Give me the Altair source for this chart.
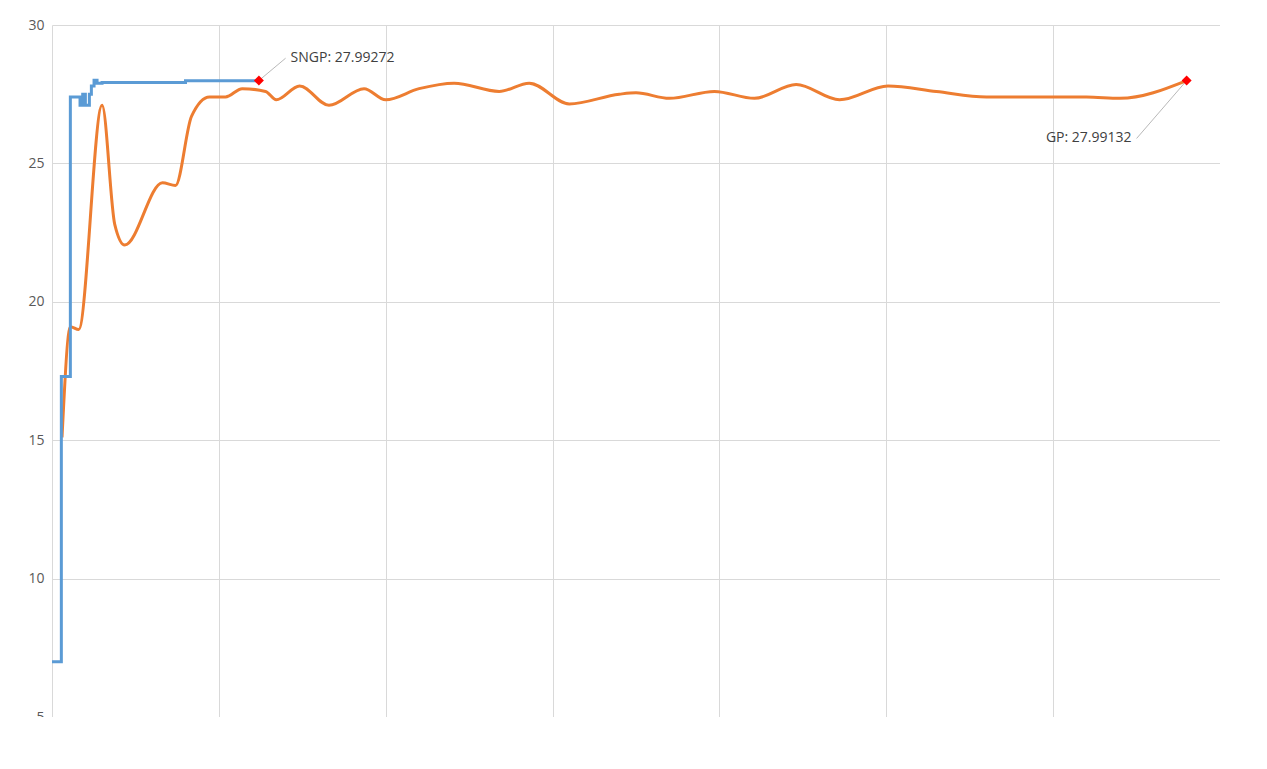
import altair as alt
import pandas as pd

sngp_x = [0, 28, 55, 84, 92, 100, 112, 118, 126, 135, 150, 400, 620]
sngp_y = [7.0, 17.3, 27.4, 27.1, 27.5, 27.1, 27.5, 27.8, 28.0, 27.9, 27.92, 27.99, 27.99272]

gp_x = [30, 55, 80, 150, 188, 218, 331, 370, 418, 472, 520, 570, 640, 672, 742, 830, 935, 1000,
        1100, 1205, 1340, 1430, 1550, 1700, 1750, 1850, 1985, 2105, 2230, 2360, 2505, 2650,
        2800, 3100, 3200, 3400]
gp_y = [15.1, 19.1, 19.0, 27.1, 22.8, 22.05, 24.3, 24.2, 26.7, 27.4, 27.4, 27.7, 27.6, 27.3,
        27.8, 27.1, 27.7, 27.3, 27.7, 27.9, 27.6, 27.9, 27.15, 27.5, 27.55, 27.35, 27.6, 27.35,
        27.85, 27.3, 27.8, 27.6, 27.4, 27.4, 27.35, 27.99132]

sngp = pd.DataFrame({"x": sngp_x, "y": sngp_y})
gp = pd.DataFrame({"x": gp_x, "y": gp_y})
ends = pd.DataFrame({"x": [620, 3400], "y": [27.99272, 27.99132],
                     "label": ["SNGP: 27.99272", "GP: 27.99132"],
                     "lx": [700, 3250], "ly": [28.8, 25.9]})

X = alt.X("x:Q", scale=alt.Scale(domain=[0, 3500], nice=False),
          axis=alt.Axis(values=list(range(0, 3501, 500)), title=None))
Y = alt.Y("y:Q", scale=alt.Scale(domain=[5, 30], nice=False, zero=False),
          axis=alt.Axis(values=[5, 10, 15, 20, 25, 30], title=None))

blue = alt.Chart(sngp).mark_line(interpolate="step-after", color="#5b9bd5", strokeWidth=3).encode(x=X, y=Y)
orange = alt.Chart(gp).mark_line(interpolate="monotone", color="#ed7d31", strokeWidth=3).encode(x=X, y=Y)
leader = alt.Chart(ends).mark_rule(color="#a6a6a6", strokeWidth=0.8).encode(
    x="x:Q", y="y:Q", x2="lx:Q", y2="ly:Q")
pts = alt.Chart(ends).mark_square(color="red", size=50, angle=45, opacity=1).encode(x="x:Q", y="y:Q")
txt_l = alt.Chart(ends.iloc[[0]]).mark_text(fontSize=14, color="#404040", font="Open Sans",
                                            align="left", dx=5).encode(x="lx:Q", y="ly:Q", text="label:N")
txt_r = alt.Chart(ends.iloc[[1]]).mark_text(fontSize=14, color="#404040", font="Open Sans",
                                            align="right", dx=-5).encode(x="lx:Q", y="ly:Q", text="label:N")

chart = (orange + blue + leader + pts + txt_l + txt_r).properties(
    width=1168, height=692, autosize=alt.AutoSizeParams(type="none"),
    padding={"left": 44, "top": 17, "right": 0, "bottom": 0},
).configure_axis(
    grid=True, gridColor="#d9d9d9", ticks=False,
    labelColor="#595959", labelFont="Open Sans", labelFontSize=14, labelPadding=8,
).configure_axisY(domain=False).configure_axisX(domainColor="#d9d9d9", domain=True).configure_view(
    stroke=None
)
chart.save("out.html", embed_options={"renderer": "svg", "actions": False})
